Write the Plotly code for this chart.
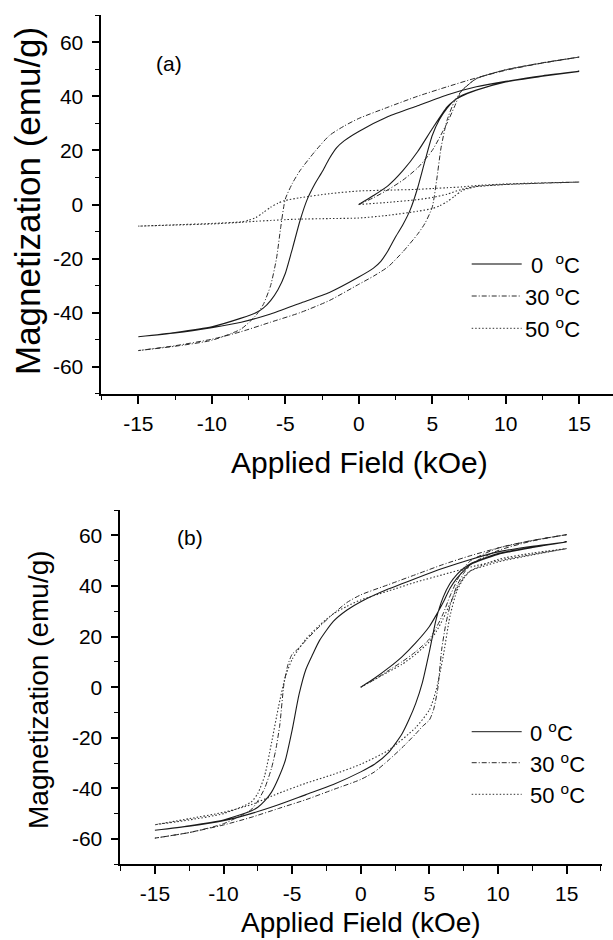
import plotly.graph_objects as go

# ---------------- DATA ----------------
# Panel (a)
a0_init_H = [0, 1, 2, 3, 4, 5, 6, 6.5, 7, 8, 10, 12.5, 15]
a0_init_M = [0, 3.3, 7.0, 12.5, 19.5, 28, 36, 38.5, 40.3, 42.3, 45.4, 47.5, 49.2]
a0_desc_H = [15, 12.5, 10, 8, 6, 4, 2, 0, -1, -1.5, -2, -2.5, -3, -3.5, -4, -4.5, -5, -5.5, -6, -6.5, -7, -8, -10, -12.5, -15]
a0_desc_M = [49.2, 47.6, 45.5, 43.5, 40.5, 36.5, 32.5, 27, 23.5, 21, 17, 12, 7.5, 2, -6, -16, -25.5, -31.5, -35.5, -38.3, -40, -42, -45.2, -47.3, -48.9]
a0_asc_H = [-15, -12.5, -10, -8, -6, -4, -2, 0, 1, 1.5, 2, 2.5, 3, 3.5, 4, 4.5, 5, 5.5, 6, 6.5, 7, 8, 10, 12.5, 15]
a0_asc_M = [-48.9, -47.5, -45.5, -43.5, -40.5, -36.5, -32.5, -26.8, -23.5, -21, -17, -12, -7.5, -2, 6, 16, 25.5, 31.5, 35.5, 38.5, 40, 42.2, 45.3, 47.4, 49.2]

a30_init_H = [0, 1, 2, 3, 4, 5, 6, 6.5, 7, 8, 10, 12.5, 15]
a30_init_M = [0, 2.5, 5.5, 9, 13.5, 20, 30, 36, 42, 46.5, 49.8, 52.3, 54.5]
a30_desc_H = [15, 12.5, 10, 8, 6, 4, 2, 0, -1, -2, -3, -4, -4.5, -5, -5.3, -5.6, -6, -6.5, -7, -8, -10, -12.5, -15]
a30_desc_M = [54.5, 52.3, 49.6, 46.8, 43.5, 40, 36, 31.8, 29, 25.5, 19.5, 12.5, 8, 2, -8, -20, -30, -37, -41, -46, -50.2, -52.4, -54]
a30_asc_H = [-15, -12.5, -10, -8, -6, -4, -2, 0, 1, 2, 3, 4, 4.5, 5, 5.3, 5.6, 6, 6.5, 7, 8, 10, 12.5, 15]
a30_asc_M = [-54, -52.2, -49.8, -47, -43.5, -40, -35.5, -29.5, -26.5, -23, -17.5, -11, -7, -1, 9, 21, 31, 38, 42, 46.5, 49.8, 52.4, 54.5]

a50_init_H = [0, 2, 4, 5, 6, 7, 8, 10, 12.5, 15]
a50_init_M = [0, 0.8, 1.8, 2.6, 3.8, 5.6, 6.7, 7.4, 7.9, 8.3]
a50_desc_H = [15, 12.5, 10, 8, 7, 6, 5, 4, 2, 0, -2, -4, -5, -5.5, -6, -6.5, -7, -7.5, -8, -10, -12.5, -15]
a50_desc_M = [8.3, 8.0, 7.6, 7.0, 6.5, 6.2, 5.9, 5.6, 5.3, 5.0, 4.0, 2.5, 1.5, 0.5, -1, -3, -4.8, -5.8, -6.4, -7.0, -7.5, -8.0]
a50_asc_H = [-15, -12.5, -10, -8, -7, -6, -5, -4, -2, 0, 2, 4, 5, 5.5, 6, 6.5, 7, 7.5, 8, 10, 12.5, 15]
a50_asc_M = [-8.0, -7.6, -7.2, -6.6, -6.2, -5.9, -5.6, -5.4, -5.2, -5.0, -4.0, -2.5, -1.5, -0.5, 1, 3, 5, 6, 6.6, 7.4, 7.9, 8.3]

# Panel (b)
b0_init_H = [0, 1, 2, 3, 4, 5, 5.5, 6, 6.5, 7, 7.5, 8, 10, 12.5, 15]
b0_init_M = [0, 3.5, 7.5, 12, 17.5, 24, 28.5, 33.5, 39, 43, 46, 48.5, 52.5, 55.2, 57.4]
b0_desc_H = [15, 12.5, 10, 8, 6, 4, 2, 0, -1, -2, -3, -3.5, -4, -4.5, -5, -5.5, -6, -6.5, -7, -7.5, -8, -10, -12.5, -15]
b0_desc_M = [57.4, 55.7, 53.5, 50.5, 47, 43, 38.8, 33.8, 30.5, 26, 18.5, 13, 7, -3, -17, -29, -36, -41.5, -45, -47.5, -49, -52.5, -54.8, -56.6]
b0_asc_H = [-15, -12.5, -10, -8, -6, -4, -2, 0, 1, 2, 3, 3.5, 4, 4.5, 5, 5.5, 6, 6.5, 7, 7.5, 8, 10, 12.5, 15]
b0_asc_M = [-56.6, -55, -52.8, -50, -46.5, -42.5, -38.5, -33.5, -30.5, -26, -18.5, -13, -6.5, 2, 14, 27, 35.5, 41, 44.5, 47, 48.8, 52.8, 55.3, 57.4]

b30_init_H = [0, 1, 2, 3, 4, 5, 5.5, 6, 6.5, 7, 7.5, 8, 10, 12.5, 15]
b30_init_M = [0, 3, 6.5, 10, 14, 19, 23.5, 29, 36, 42, 47, 50, 55, 58, 60.3]
b30_desc_H = [15, 12.5, 10, 8, 6, 4, 2, 0, -1, -2, -3, -4, -4.5, -5, -5.3, -5.6, -5.9, -6.2, -6.5, -7, -7.5, -8, -10, -12.5, -15]
b30_desc_M = [60.3, 58, 55, 52, 48.5, 44.5, 40.5, 36.5, 33.5, 29, 24, 18.5, 15.5, 13, 9, 1, -15, -25, -32, -40, -45, -48.5, -54, -57.5, -59.7]
b30_asc_H = [-15, -12.5, -10, -8, -6, -4, -2, 0, 1, 2, 3, 4, 4.5, 5, 5.3, 5.6, 5.9, 6.2, 6.5, 7, 7.5, 8, 10, 12.5, 15]
b30_asc_M = [-59.7, -57.5, -54.5, -51.5, -48, -44.5, -40.5, -36.5, -33.5, -29, -24, -18.5, -15.5, -13, -9, -1, 15, 25, 32, 40, 45, 48.5, 54, 57.8, 60.3]

b50_init_H = [0, 1, 2, 3, 4, 5, 5.5, 6, 6.5, 7, 7.5, 8, 10, 12.5, 15]
b50_init_M = [0, 3, 6, 9, 13, 18, 22, 27, 33, 39, 43.5, 46, 49.5, 52.3, 54.8]
b50_desc_H = [15, 12.5, 10, 8, 6, 4, 2, 0, -1, -2, -3, -4, -5, -5.5, -6, -6.5, -7, -7.5, -8, -10, -12.5, -15]
b50_desc_M = [54.8, 52.5, 50, 47.5, 44.5, 41.5, 38, 34.5, 32, 29, 24.5, 19, 11, 4, -8, -22, -35, -42, -45.5, -50, -52.5, -54.4]
b50_asc_H = [-15, -12.5, -10, -8, -6, -4, -2, 0, 2, 4, 5, 5.5, 6, 6.5, 7, 7.5, 8, 10, 12.5, 15]
b50_asc_M = [-54.4, -52, -49.5, -46.5, -42, -38, -34.5, -30.5, -25, -16, -9, -1, 12, 28, 38, 43, 46, 50.5, 53, 54.8]

x_tickvals = [-15, -10, -5, 0, 5, 10, 15]
x_ticktext = ["-15", "-10", "-5", "0", "5", "10", "15"]
y_tickvals = [-60, -40, -20, 0, 20, 40, 60]
y_ticktext = ["-60", "-40", "-20", "0", "20", "40", "60"]

legend_a = ["0  <sup>o</sup>C", "30 <sup>o</sup>C", "50 <sup>o</sup>C"]
legend_b = ["0 <sup>o</sup>C", "30 <sup>o</sup>C", "50 <sup>o</sup>C"]

# ---------------- STYLE ----------------
W, H = 613, 940
FONT = "Liberation Sans, Arial, sans-serif"
styles = [
    dict(color="#1a1a1a", width=1.1, dash="solid"),
    dict(color="#2a2a2a", width=1.0, dash="5px,2px,1px,2px"),
    dict(color="#333333", width=1.1, dash="1.5px,2px"),
]

def px_x(p):
    return p / W

def px_y(p):
    return 1 - p / H

fig = go.Figure()

def add_series(hs, ms, st, xa, ya):
    H_all = hs[0] + hs[1] + hs[2]
    M_all = ms[0] + ms[1] + ms[2]
    fig.add_trace(go.Scatter(x=H_all, y=M_all, mode="lines",
                             line=dict(color=st["color"], width=st["width"], dash=st["dash"],
                                       shape="spline", smoothing=0.6),
                             xaxis=xa, yaxis=ya, showlegend=False, hoverinfo="skip"))

add_series([a0_init_H, a0_desc_H, a0_asc_H], [a0_init_M, a0_desc_M, a0_asc_M], styles[0], "x", "y")
add_series([a30_init_H, a30_desc_H, a30_asc_H], [a30_init_M, a30_desc_M, a30_asc_M], styles[1], "x", "y")
add_series([a50_init_H, a50_desc_H, a50_asc_H], [a50_init_M, a50_desc_M, a50_asc_M], styles[2], "x", "y")
add_series([b0_init_H, b0_desc_H, b0_asc_H], [b0_init_M, b0_desc_M, b0_asc_M], styles[0], "x2", "y2")
add_series([b30_init_H, b30_desc_H, b30_asc_H], [b30_init_M, b30_desc_M, b30_asc_M], styles[1], "x2", "y2")
add_series([b50_init_H, b50_desc_H, b50_asc_H], [b50_init_M, b50_desc_M, b50_asc_M], styles[2], "x2", "y2")

def xaxis_cfg(domain, rng, anchor):
    return dict(domain=domain, range=rng, anchor=anchor, showgrid=False, zeroline=False,
                showline=True, linecolor="black", linewidth=1.6,
                tickmode="array", tickvals=x_tickvals, ticktext=x_ticktext,
                ticks="outside", ticklen=8, tickwidth=1.6, tickcolor="black",
                ticklabelstandoff=2,
                minor=dict(ticks="outside", ticklen=4.5, tickwidth=1.4, tickcolor="black",
                           tickmode="linear", tick0=0, dtick=2.5),
                tickfont=dict(family=FONT, size=21, color="black"))

def yaxis_cfg(domain, anchor):
    return dict(domain=domain, range=[-70.05, 70.05], anchor=anchor, showgrid=False, zeroline=False,
                showline=True, linecolor="black", linewidth=1.6,
                tickmode="array", tickvals=y_tickvals, ticktext=y_ticktext,
                ticks="outside", ticklen=8, tickwidth=1.6, tickcolor="black",
                ticklabelstandoff=4,
                minor=dict(ticks="outside", ticklen=4.5, tickwidth=1.4, tickcolor="black",
                           tickmode="linear", tick0=0, dtick=10),
                tickfont=dict(family=FONT, size=21, color="black"))

fig.update_layout(
    width=W, height=H, margin=dict(l=0, r=0, t=0, b=0),
    paper_bgcolor="white", plot_bgcolor="white",
    xaxis=xaxis_cfg([px_x(101.3), 1.0], [-17.52, 17.3], "y"),
    yaxis=yaxis_cfg([px_y(394), px_y(15)], "x"),
    xaxis2=xaxis_cfg([px_x(120.3), px_x(602.3)], [-17.52, 17.6], "y2"),
    yaxis2=yaxis_cfg([px_y(864.3), px_y(510)], "x2"),
)

anns = []
# axis titles
anns.append(dict(text="Magnetization (emu/g)", x=px_x(27), y=px_y(201), textangle=-90,
                 font=dict(family=FONT, size=35, color="black")))
anns.append(dict(text="Applied Field (kOe)", x=px_x(359), y=px_y(462),
                 font=dict(family=FONT, size=30, color="black")))
anns.append(dict(text="Magnetization (emu/g)", x=px_x(38), y=px_y(690), textangle=-90,
                 font=dict(family=FONT, size=28, color="black")))
anns.append(dict(text="Applied Field (kOe)", x=px_x(361), y=px_y(922),
                 font=dict(family=FONT, size=28, color="black")))
# panel labels
anns.append(dict(text="(a)", x=px_x(169.5), y=px_y(64), font=dict(family=FONT, size=21, color="black")))
anns.append(dict(text="(b)", x=px_x(190), y=px_y(537), font=dict(family=FONT, size=21, color="black")))

shapes = []
leg_a_y = [264, 296, 328.3]
leg_b_y = [731.7, 762.7, 794.3]
for i in range(3):
    st = styles[i]
    shapes.append(dict(type="line", xref="paper", yref="paper",
                       x0=px_x(471.7), x1=px_x(521.7), y0=px_y(leg_a_y[i]), y1=px_y(leg_a_y[i]),
                       line=dict(color="#555555" if i == 0 else st["color"], width=1.6 if i == 0 else 1.0,
                                 dash=st["dash"])))
    anns.append(dict(text=legend_a[i], x=px_x(582), y=px_y(leg_a_y[i]), xanchor="right",
                     font=dict(family=FONT, size=22, color="black")))
    shapes.append(dict(type="line", xref="paper", yref="paper",
                       x0=px_x(471.7), x1=px_x(521.7), y0=px_y(leg_b_y[i]), y1=px_y(leg_b_y[i]),
                       line=dict(color=st["color"], width=1.0, dash=st["dash"])))
    anns.append(dict(text=legend_b[i], x=px_x(528), y=px_y(leg_b_y[i]), xanchor="left",
                     font=dict(family=FONT, size=22, color="black")))

for a in anns:
    a.setdefault("xref", "paper")
    a.setdefault("yref", "paper")
    a.setdefault("showarrow", False)
    a.setdefault("xanchor", "center")
    a.setdefault("yanchor", "middle")

fig.update_layout(annotations=anns, shapes=shapes)
fig.write_html("out.html")
